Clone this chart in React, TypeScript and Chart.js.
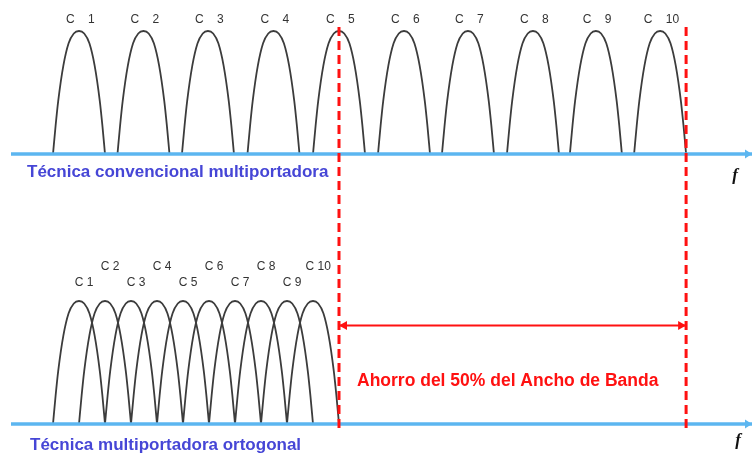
import React, { useEffect, useRef } from "react";
import { Chart, registerables } from "chart.js";

Chart.register(...registerables);

// ---------- data ----------
const carrierNumbers = ["1", "2", "3", "4", "5", "6", "7", "8", "9", "10"];
// centre frequency of each carrier (unit = orthogonal sub-carrier spacing)
const convCenters = [0, 2.48, 4.96, 7.48, 10, 12.5, 14.96, 17.46, 19.88, 22.35];
const ofdmCenters = [0, 1, 2, 3, 4, 5, 6, 7, 8, 9];
// shape of one spectral lobe (offset from centre, normalised amplitude)
const lobeOffsets = [-1, -0.9, -0.8, -0.6, -0.4, -0.2, 0, 0.2, 0.4, 0.6, 0.8, 0.9, 1];
const lobeHeights = [0, 0.23, 0.43, 0.72, 0.9, 0.98, 1, 0.98, 0.9, 0.72, 0.43, 0.23, 0];
const ofdmBandEnd = 10;
const convBandEnd = 23.35;
const titleConv = "Técnica convencional multiportadora";
const titleOfdm = "Técnica multiportadora ortogonal";
const savingText = "Ahorro del 50% del Ancho de Banda";
const axisName = "f";

// ---------- layout ----------
const W = 752;
const H = 454;
const unitPx = 26;
const originPx = 79;
const ampPx = 123;
const topBasePx = 154;
const botBasePx = 424;
const xMin = -originPx / unitPx;
const xMax = (W - originPx) / unitPx;
const pxX = (px: number) => (px - originPx) / unitPx;
const ampTop = (py: number) => (topBasePx - py) / ampPx;
const ampBot = (py: number) => (botBasePx - py) / ampPx;

const LINE = "#3c3c3c";
const BLUE = "#5cb6f0";
const RED = "#ff1111";
const TXTBLUE = "#4646d6";
const FONT = "'Liberation Sans', Arial, sans-serif";

const lobe = (c: number) => lobeOffsets.map((o, i) => ({ x: c + o, y: lobeHeights[i] }));

const arrowPlugin = {
  id: "arrowEnds",
  afterDatasetsDraw(chart: any) {
    const ctx = chart.ctx;
    chart.data.datasets.forEach((ds: any, i: number) => {
      if (!ds.arrowEnds) return;
      const meta = chart.getDatasetMeta(i);
      const pts = meta.data;
      const draw = (a: any, b: any) => {
        const ang = Math.atan2(b.y - a.y, b.x - a.x);
        const L = ds.arrowLen || 8;
        const hw = ds.arrowHalf || 4.5;
        ctx.save();
        ctx.fillStyle = ds.borderColor;
        ctx.translate(b.x, b.y);
        ctx.rotate(ang);
        ctx.beginPath();
        ctx.moveTo(0, 0);
        ctx.lineTo(-L, -hw);
        ctx.lineTo(-L, hw);
        ctx.closePath();
        ctx.fill();
        ctx.restore();
      };
      const n = pts.length;
      if (ds.arrowEnds === "end" || ds.arrowEnds === "both") draw(pts[n - 2], pts[n - 1]);
      if (ds.arrowEnds === "both") draw(pts[1], pts[0]);
    });
  },
};

const textPlugin = {
  id: "texts",
  afterDatasetsDraw(chart: any, _args: any, opts: any) {
    const ctx = chart.ctx;
    const xs = chart.scales.x;
    (opts.items || []).forEach((t: any) => {
      const ys = chart.scales[t.axis];
      ctx.save();
      ctx.font = t.font;
      ctx.fillStyle = t.color;
      ctx.textAlign = t.align || "center";
      ctx.textBaseline = "middle";
      ctx.fillText(t.text, xs.getPixelForValue(t.x), ys.getPixelForValue(t.y));
      ctx.restore();
    });
  },
};

export default function App() {
  const ref = useRef<HTMLCanvasElement>(null);

  useEffect(() => {
    document.body.style.margin = "0";
    document.body.style.overflow = "hidden";
    const lobeStyle = {
      borderColor: LINE,
      borderWidth: 1.8,
      pointRadius: 0,
      showLine: true,
      cubicInterpolationMode: "monotone" as const,
      order: 3,
    };
    const datasets: any[] = [];
    convCenters.forEach((c, i) =>
      datasets.push({ ...lobeStyle, label: "C " + carrierNumbers[i], yAxisID: "yTop", data: lobe(c) })
    );
    ofdmCenters.forEach((c, i) =>
      datasets.push({ ...lobeStyle, label: "C" + carrierNumbers[i], yAxisID: "yBot", data: lobe(c) })
    );
    // frequency axes
    ["yTop", "yBot"].forEach((ax) =>
      datasets.push({
        label: "f " + ax,
        yAxisID: ax,
        data: [{ x: pxX(11), y: 0 }, { x: xMax, y: 0 }],
        borderColor: BLUE,
        borderWidth: 3.5,
        pointRadius: 0,
        showLine: true,
        order: 2,
        arrowEnds: "end",
        arrowLen: 7,
        arrowHalf: 4.5,
      })
    );
    // dashed band limits
    [ofdmBandEnd, convBandEnd].forEach((x) =>
      datasets.push({
        label: "limit " + x,
        yAxisID: "yTop",
        data: [{ x, y: ampTop(27) }, { x, y: ampTop(428) }],
        borderColor: RED,
        borderWidth: 3,
        borderDash: [9, 5],
        pointRadius: 0,
        showLine: true,
        order: 1,
      })
    );
    // saving arrow
    datasets.push({
      label: "ahorro",
      yAxisID: "yBot",
      data: [{ x: ofdmBandEnd, y: ampBot(325.5) }, { x: convBandEnd, y: ampBot(325.5) }],
      borderColor: RED,
      borderWidth: 2,
      pointRadius: 0,
      showLine: true,
      order: 0,
      arrowEnds: "both",
      arrowLen: 8,
      arrowHalf: 4.5,
    });

    const items: any[] = [];
    const small = `12px ${FONT}`;
    convCenters.forEach((c, i) =>
      items.push({ text: "C    " + carrierNumbers[i], x: c + 0.05, y: ampTop(20), axis: "yTop", font: small, color: "#333" })
    );
    ofdmCenters.forEach((c, i) =>
      items.push({
        text: "C " + carrierNumbers[i],
        x: c + 0.2,
        y: i % 2 === 0 ? ampBot(283) : ampBot(267),
        axis: "yBot",
        font: small,
        color: "#333",
      })
    );
    items.push({ text: titleConv, x: pxX(27), y: ampTop(172), axis: "yTop", font: `bold 17px ${FONT}`, color: TXTBLUE, align: "left" });
    items.push({ text: titleOfdm, x: pxX(30), y: ampBot(445), axis: "yBot", font: `bold 17px ${FONT}`, color: TXTBLUE, align: "left" });
    items.push({ text: savingText, x: pxX(357), y: ampBot(381), axis: "yBot", font: `bold 17.5px ${FONT}`, color: RED, align: "left" });
    items.push({ text: axisName, x: pxX(735), y: ampTop(176), axis: "yTop", font: `bold italic 17px 'Liberation Serif', serif`, color: "#111" });
    items.push({ text: axisName, x: pxX(738), y: ampBot(441), axis: "yBot", font: `bold italic 17px 'Liberation Serif', serif`, color: "#111" });

    const chart = new Chart(ref.current as HTMLCanvasElement, {
      type: "scatter",
      data: { datasets },
      options: {
        animation: false,
        responsive: false,
        layout: { padding: 0 },
        events: [],
        plugins: {
          legend: { display: false },
          tooltip: { enabled: false },
          texts: { items },
        } as any,
        scales: {
          x: { type: "linear", display: false, min: xMin, max: xMax },
          yTop: {
            type: "linear",
            display: false,
            min: (topBasePx - H) / ampPx,
            max: topBasePx / ampPx,
          },
          yBot: {
            type: "linear",
            display: false,
            min: (botBasePx - H) / ampPx,
            max: botBasePx / ampPx,
          },
        },
      },
      plugins: [arrowPlugin, textPlugin],
    });
    return () => chart.destroy();
  }, []);

  return (
    <div style={{ position: "absolute", left: 0, top: 0, width: W, height: H, background: "#fff" }}>
      <canvas ref={ref} width={W} height={H} />
    </div>
  );
}
